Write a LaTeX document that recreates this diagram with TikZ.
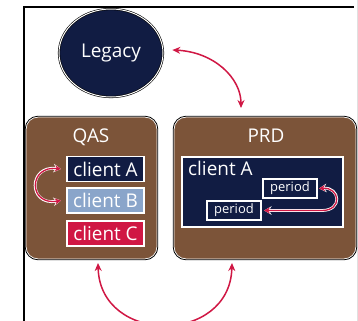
\documentclass[tikz,border=0pt]{standalone}
\usepackage{fontspec}
\setmainfont{Open Sans}
\usetikzlibrary{arrows.meta,shapes.geometric}
\definecolor{navy}{HTML}{111C43}
\definecolor{envbrown}{HTML}{7C5439}
\definecolor{steel}{HTML}{8AA5CA}
\definecolor{crim}{HTML}{D01744}
\newcommand\labfont{\fontsize{19}{22}\selectfont}
\newcommand\perfont{\fontsize{13}{15}\selectfont}
\begin{document}
\begin{tikzpicture}[x=1bp,y=-1bp,
  envbox/.style={rectangle, rounded corners=12bp, fill=envbrown, draw=white, line width=0.9bp, inner sep=0, outer sep=0},
  envline/.style={draw=black, line width=0.8bp, rounded corners=12.8bp},
  clientbox/.style={rectangle, draw=white, line width=1.3bp, minimum width=77bp, minimum height=25bp, inner sep=0, outer sep=0, text=white, font=\labfont},
  perbox/.style={rectangle, draw=white, fill=navy, line width=1.3bp, minimum width=54bp, minimum height=19bp, inner sep=0, outer sep=0, text=white, font=\perfont},
  lab/.style={text=white, font=\labfont, inner sep=0},
  bigarrow/.style={draw=crim, line width=1.5bp, {Stealth[length=8bp,width=7bp]}-{Stealth[length=8bp,width=7bp]}},
  casedarrow/.style={draw=crim, line width=1.3bp, {Stealth[length=6bp,width=6bp]}-{Stealth[length=6bp,width=6bp]}, preaction={draw=white, line width=2.8bp, {Stealth[length=7.5bp,width=8.5bp]}-{Stealth[length=7.5bp,width=8.5bp]}}},
]
\useasboundingbox (0,0) rectangle (358,321);
\clip (0,0) rectangle (358,321);
\fill[white] (0,0) rectangle (358,321);
\draw[black,line width=1.6bp] (24,322) -- (24,7) -- (354,7);
\draw[black!12, line width=0.8bp] (357,0) -- (357,321);

% Legacy
\node[ellipse, fill=navy, draw=black, double=white, double distance=1bp, line width=0.6bp, minimum width=104bp, minimum height=88bp, text=white, font=\labfont, inner sep=0] (legacy) at (111,53) {Legacy};

% QAS
\node[envbox, minimum width=131bp, minimum height=142bp] (qas) at (91.5,188) {};
\draw[envline] ([shift={(-0.8bp,0.8bp)}]qas.north west) rectangle ([shift={(0.8bp,-0.8bp)}]qas.south east);
\node[lab, anchor=base] (qaslab) at (91,142) {QAS};
\node[clientbox, fill=navy] (ca) at (105.5,169) {client A};
\node[clientbox, fill=steel] (cb) at (105.5,200.5) {client B};
\node[clientbox, fill=crim] (cc) at (105.5,233.5) {client C};

% PRD
\node[envbox, minimum width=182bp, minimum height=142bp] (prd) at (265,188) {};
\draw[envline] ([shift={(-0.8bp,0.8bp)}]prd.north west) rectangle ([shift={(0.8bp,-0.8bp)}]prd.south east);
\node[lab, anchor=base] (prdlab) at (266,142) {PRD};
\node[rectangle, fill=navy, draw=white, line width=1.3bp, minimum width=161bp, minimum height=70bp, inner sep=0, outer sep=0] (ina) at (262.5,192) {};
\node[lab, anchor=base west] (inalab) at (188,175) {client A};
\node[perbox] (p1) at (290,188.5) {period};
\node[perbox] (p2) at (234,210.5) {period};

% connectors
\draw[bigarrow] ([shift={(9bp,3bp)}]legacy.east) .. controls (214,52) and (241,78) .. ([shift={(-24bp,9bp)}]prd.north);
\draw[bigarrow] ([shift={(6.5bp,-4bp)}]qas.south) .. controls (100,345) and (230,345) .. ([shift={(-33bp,-4bp)}]prd.south);
\draw[casedarrow] ([xshift=-6bp]ca.west) .. controls (28,165) and (28,206) .. ([xshift=-6bp]cb.west);
\draw[casedarrow] ([xshift=2bp]p1.east) .. controls (340,187) and (343,210.5) .. (322,210.5) -- ([xshift=3bp]p2.east);
\end{tikzpicture}
\end{document}
